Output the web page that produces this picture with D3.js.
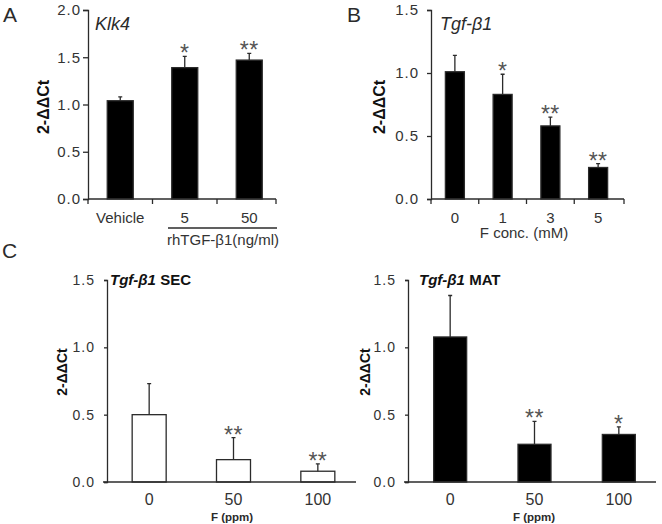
<!DOCTYPE html>
<html>
<head>
<meta charset="utf-8">
<script src="https://cdn.jsdelivr.net/npm/d3@7"></script>
<style>
  body { margin: 0; background: #fff; }
  svg, svg text { font-family: "Liberation Sans", Arial, sans-serif; }
</style>
</head>
<body>
<div id="chart"></div>
<script>
// Panel A: Klk4
const klkCats = ["Vehicle", "5", "50"];
const klkMeans = [1.04, 1.39, 1.47];
const klkErr = [0.04, 0.12, 0.07];
const klkStars = ["", "*", "**"];
const klkTicks = [0, 0.5, 1.0, 1.5, 2.0];

// Panel B: Tgf-b1 vs F conc
const tgfCats = ["0", "1", "3", "5"];
const tgfMeans = [1.01, 0.83, 0.58, 0.25];
const tgfErr = [0.13, 0.16, 0.07, 0.03];
const tgfStars = ["", "*", "**", "**"];
const tgfTicks = [0, 0.5, 1.0, 1.5];

// Panel C: in vivo SEC / MAT
const ppmCats = ["0", "50", "100"];
const secMeans = [0.50, 0.166, 0.08];
const secErr = [0.23, 0.164, 0.054];
const secStars = ["", "**", "**"];
const matMeans = [1.077, 0.28, 0.353];
const matErr = [0.308, 0.17, 0.057];
const matStars = ["", "**", "*"];
const cTicks = [0, 0.5, 1.0, 1.5];

const ink = "#2b2b2b";
const font = "'Liberation Sans', Arial, sans-serif";
const width = 662, height = 524;

const svg = d3.select("#chart").append("svg")
    .attr("width", width)
    .attr("height", height)
    .attr("viewBox", [0, 0, width, height])
    .attr("font-family", font);

function panel(o) {
    const x = d3.scaleBand()
        .domain(o.cats)
        .range([o.x0, o.x1])
        .paddingInner(0)
        .paddingOuter(0);
    const y = d3.scaleLinear()
        .domain([0, o.ymax])
        .range([o.y0, o.y1]);
    const bw = o.barW;
    const g = svg.append("g");

    // bars
    g.selectAll(".bar")
        .data(o.means)
        .join("rect")
        .attr("x", (d, i) => x(o.cats[i]) + x.bandwidth() / 2 - bw / 2)
        .attr("y", (d) => y(d))
        .attr("width", bw)
        .attr("height", (d) => y(0) - y(d))
        .attr("fill", o.fill)
        .attr("stroke", ink)
        .attr("stroke-width", 1.3);

    // error bars
    g.selectAll(".err")
        .data(o.means)
        .join("path")
        .attr("d", (d, i) => {
            const cx = x(o.cats[i]) + x.bandwidth() / 2;
            const top = y(d + o.err[i]);
            return `M${cx},${y(d)}V${top}M${cx - 2},${top}H${cx + 2}`;
        })
        .attr("stroke", ink)
        .attr("stroke-width", 1.3)
        .attr("fill", "none");

    // stars
    g.selectAll(".star")
        .data(o.means)
        .join("text")
        .attr("x", (d, i) => x(o.cats[i]) + x.bandwidth() / 2)
        .attr("y", (d, i) => y(d + o.err[i]) + 5)
        .attr("text-anchor", "middle")
        .attr("font-size", 23)
        .attr("fill", "#555")
        .attr("letter-spacing", 0.5)
        .text((d, i) => o.stars[i]);

    // y axis
    const ya = g.append("g")
        .attr("transform", `translate(${o.x0},0)`)
        .call(d3.axisLeft(y).tickValues(o.ticks).tickFormat(d3.format(".1f"))
            .tickSizeOuter(0).tickSize(o.ytick).tickPadding(o.ypad));
    ya.attr("font-family", font);
    ya.select(".domain").attr("stroke", ink).attr("stroke-width", 1.3);
    ya.selectAll(".tick line").attr("stroke", ink).attr("stroke-width", 1.3);
    ya.selectAll("text").attr("font-size", o.tickFont).attr("fill", "#333")
        .attr("letter-spacing", 1);

    // x axis
    const xa = g.append("g")
        .attr("transform", `translate(0,${o.y0})`)
        .call(d3.axisBottom(x).tickSize(0).tickPadding(o.xpad));
    xa.attr("font-family", font);
    xa.select(".domain").remove();
    xa.selectAll("text").attr("font-size", o.xFont).attr("fill", "#333");
    g.append("line")
        .attr("x1", o.x0 - o.xlead).attr("x2", o.axisEnd)
        .attr("y1", o.y0).attr("y2", o.y0)
        .attr("stroke", ink).attr("stroke-width", 1.3);
    if (o.xticks) {
        const tx = d3.range(o.cats.length).map((i) => o.x0 + i * x.step()).concat([o.axisEnd]);
        g.selectAll(".xt")
            .data(tx)
            .join("line")
            .attr("x1", (d) => d)
            .attr("x2", (d) => d)
            .attr("y1", o.y0).attr("y2", o.y0 + 5)
            .attr("stroke", ink).attr("stroke-width", 1.3);
    }

    // y label
    g.append("text")
        .attr("transform", `translate(${o.ylabX},${o.ylabY}) rotate(-90)`)
        .attr("text-anchor", "middle")
        .attr("font-size", o.ylabFont)
        .attr("font-weight", "bold")
        .attr("fill", "#111")
        .text("2-ΔΔCt");
    return { x, y, g };
}

// ---- A
const pa = panel({
    cats: klkCats, means: klkMeans, err: klkErr, stars: klkStars, ticks: klkTicks,
    x0: 88, x1: 281.5, axisEnd: 276, y0: 199, y1: 10, ymax: 2.0, barW: 26, fill: "#000",
    ytick: 5, ypad: 2, xpad: 13, xlead: 0, xticks: true, tickFont: 15, xFont: 15,
    ylabX: 49, ylabY: 107, ylabFont: 16
});
pa.g.append("line")
    .attr("x1", 168).attr("x2", 277).attr("y1", 228).attr("y2", 228)
    .attr("stroke", ink).attr("stroke-width", 1.3);
pa.g.append("text")
    .attr("x", 223).attr("y", 245).attr("text-anchor", "middle")
    .attr("font-size", 15).attr("fill", "#333").text("rhTGF-β1(ng/ml)");
pa.g.append("text")
    .attr("x", 95).attr("y", 30).attr("font-size", 18)
    .attr("font-style", "italic").attr("fill", ink).text("Klk4");

// ---- B
const pb = panel({
    cats: tgfCats, means: tgfMeans, err: tgfErr, stars: tgfStars, ticks: tgfTicks,
    x0: 431, x1: 622, axisEnd: 624, y0: 199, y1: 10, ymax: 1.5, barW: 19, fill: "#000",
    ytick: 4, ypad: 8, xpad: 13, xlead: 0, xticks: true, tickFont: 15, xFont: 15,
    ylabX: 385, ylabY: 107, ylabFont: 16
});
pb.g.append("text")
    .attr("x", 524).attr("y", 238).attr("text-anchor", "middle")
    .attr("font-size", 15).attr("fill", "#333").text("F conc. (mM)");
pb.g.append("text")
    .attr("x", 440).attr("y", 30).attr("font-size", 18)
    .attr("font-style", "italic").attr("fill", ink).text("Tgf-β1");

// ---- C left (SEC)
const pc1 = panel({
    cats: ppmCats, means: secMeans, err: secErr, stars: secStars, ticks: cTicks,
    x0: 107, x1: 360, axisEnd: 356, y0: 482, y1: 280, ymax: 1.5, barW: 34, fill: "#fff",
    ytick: 3, ypad: 9, xpad: 12, xlead: 4, xticks: false, tickFont: 14, xFont: 16,
    ylabX: 67, ylabY: 372, ylabFont: 14
});
pc1.g.append("text")
    .attr("x", 232).attr("y", 521).attr("text-anchor", "middle")
    .attr("font-size", 11.5).attr("font-weight", "bold").attr("fill", ink).text("F (ppm)");
const t1 = pc1.g.append("text")
    .attr("x", 110).attr("y", 285).attr("font-size", 15)
    .attr("font-weight", "bold").attr("fill", "#111");
t1.append("tspan").attr("font-style", "italic").text("Tgf-β1");
t1.append("tspan").text(" SEC");

// ---- C right (MAT)
const pc2 = panel({
    cats: ppmCats, means: matMeans, err: matErr, stars: matStars, ticks: cTicks,
    x0: 408, x1: 661, axisEnd: 656, y0: 482, y1: 280, ymax: 1.5, barW: 33, fill: "#000",
    ytick: 3, ypad: 9, xpad: 12, xlead: 4, xticks: false, tickFont: 14, xFont: 16,
    ylabX: 370, ylabY: 372, ylabFont: 14
});
pc2.g.append("text")
    .attr("x", 534).attr("y", 521).attr("text-anchor", "middle")
    .attr("font-size", 11.5).attr("font-weight", "bold").attr("fill", ink).text("F (ppm)");
const t2 = pc2.g.append("text")
    .attr("x", 419).attr("y", 285).attr("font-size", 15)
    .attr("font-weight", "bold").attr("fill", "#111");
t2.append("tspan").attr("font-style", "italic").text("Tgf-β1");
t2.append("tspan").text(" MAT");

// panel letters
const letters = [["A", 3, 22], ["B", 347, 22], ["C", 2, 258]];
svg.selectAll(".letter")
    .data(letters)
    .join("text")
    .attr("x", (d) => d[1]).attr("y", (d) => d[2])
    .attr("font-size", 21).attr("fill", ink)
    .attr("font-family", "'DejaVu Sans', sans-serif")
    .attr("font-weight", 300)
    .text((d) => d[0]);
</script>
</body>
</html>
